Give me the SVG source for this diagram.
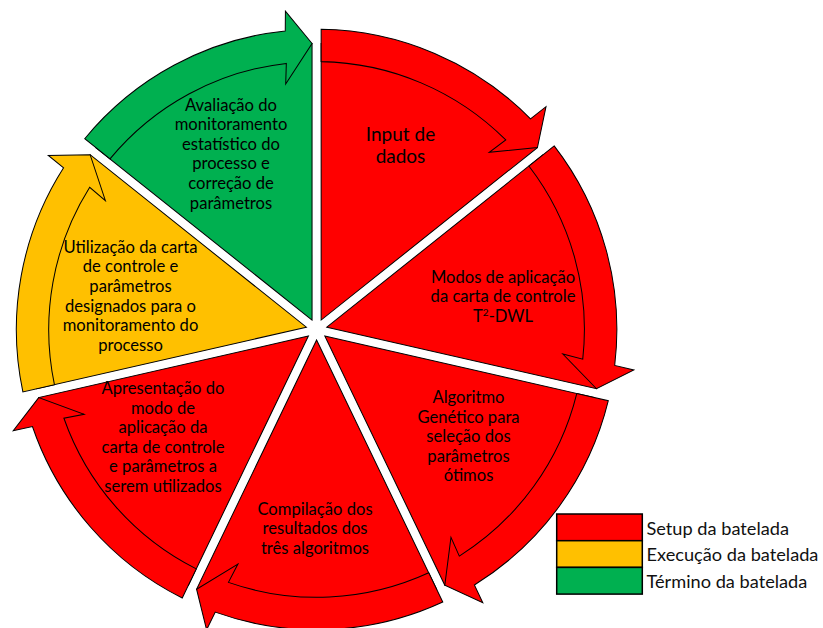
<svg xmlns="http://www.w3.org/2000/svg" width="823" height="628" viewBox="0 0 823 628">
<style>
.red{fill:#FF0000}
.yel{fill:#FFC000}
.grn{fill:#00B050}
.sh{stroke:#000;stroke-width:1;stroke-linejoin:miter}
.t{font-family:Lato,"Liberation Sans",sans-serif;font-size:16.6px;fill:#000;text-anchor:middle}
.big{font-size:19px}
.lg{font-family:Lato,"Liberation Sans",sans-serif;font-size:18.2px;fill:#111}
.box{stroke:#000;stroke-width:1.5}
</style>
<defs>
<path id="wedge" d="M4.5,-9.344 L4.5,-282.96 A283,283 0 0 1 218.43,-179.94 Z"/>
<path id="arrow" d="M4.5,-264.96 L4.5,-296.97 A297,297 0 0 1 211.6,-208.4 L226.9,-220.4 L218.43,-179.94 L170.8,-175.3 L187.1,-187.5 A265,265 0 0 0 4.5,-264.96 Z"/>
</defs>
<rect width="823" height="628" fill="#fff"/>
<g id="connectors"></g>
<g id="n1">
<g class="red sh" transform="translate(316.6,329.5) scale(1.011) rotate(0)"><use href="#wedge"/><use href="#arrow"/></g>
<text class="t big"><tspan x="400.5" y="140.5">Input de</tspan><tspan x="400.5" y="163">dados</tspan></text>
</g>
<g id="n2">
<g class="red sh" transform="translate(316.6,329.5) scale(1.011) rotate(51.4286)"><use href="#wedge"/><use href="#arrow"/></g>
<text class="t"><tspan x="503" y="282.5">Modos de aplicação</tspan><tspan x="503" y="302">da carta de controle</tspan><tspan x="503" y="321.5">T<tspan font-size="10" dy="-6">2</tspan><tspan dy="6">-DWL</tspan></tspan></text>
</g>
<g id="n3">
<g class="red sh" transform="translate(316.6,329.5) scale(1.011) rotate(102.857)"><use href="#wedge"/><use href="#arrow"/></g>
<text class="t"><tspan x="468.5" y="403.3">Algoritmo</tspan><tspan x="468.5" y="422.8">Genético para</tspan><tspan x="468.5" y="442.3">seleção dos</tspan><tspan x="468.5" y="461.8">parâmetros</tspan><tspan x="468.5" y="481.3">ótimos</tspan></text>
</g>
<g id="n4">
<g class="red sh" transform="translate(316.6,329.5) scale(1.011) rotate(154.286)"><use href="#wedge"/><use href="#arrow"/></g>
<text class="t"><tspan x="315" y="515">Compilação dos</tspan><tspan x="315" y="534.3">resultados dos</tspan><tspan x="315" y="553.6">três algoritmos</tspan></text>
</g>
<g id="n5">
<g class="red sh" transform="translate(316.6,329.5) scale(1.011) rotate(205.714)"><use href="#wedge"/><use href="#arrow"/></g>
<text class="t"><tspan x="163" y="394.3">Apresentação do</tspan><tspan x="163" y="413.8">modo de</tspan><tspan x="163" y="433.3">aplicação da</tspan><tspan x="163" y="452.8">carta de controle</tspan><tspan x="163" y="472.3">e parâmetros a</tspan><tspan x="163" y="491.8">serem utilizados</tspan></text>
</g>
<g id="n6">
<g class="yel sh" transform="translate(316.6,329.5) scale(1.011) rotate(257.143)"><use href="#wedge"/><use href="#arrow"/></g>
<text class="t"><tspan x="130.5" y="252.5">Utilização da carta</tspan><tspan x="130.5" y="272.2">de controle e</tspan><tspan x="130.5" y="291.8">parâmetros</tspan><tspan x="130.5" y="311.5">designados para o</tspan><tspan x="130.5" y="331.1">monitoramento do</tspan><tspan x="130.5" y="350.8">processo</tspan></text>
</g>
<g id="n7">
<g class="grn sh" transform="translate(316.6,329.5) scale(1.011) rotate(308.571)"><use href="#wedge"/><use href="#arrow"/></g>
<text class="t"><tspan x="231" y="110.5">Avaliação do</tspan><tspan x="231" y="130.1">monitoramento</tspan><tspan x="231" y="149.7">estatístico do</tspan><tspan x="231" y="169.3">processo e</tspan><tspan x="231" y="188.9">correção de</tspan><tspan x="231" y="208.5">parâmetros</tspan></text>
</g>
<g id="legend">
<rect class="red box" x="556.7" y="514" width="85.6" height="26.7"/>
<rect class="yel box" x="556.7" y="540.7" width="85.6" height="26.7"/>
<rect class="grn box" x="556.7" y="567.4" width="85.6" height="26.7"/>
<text class="lg" x="646.5" y="534.5">Setup da batelada</text>
<text class="lg" x="646.5" y="561.2">Execução da batelada</text>
<text class="lg" x="646.5" y="587.9">Término da batelada</text>
</g>
</svg>
